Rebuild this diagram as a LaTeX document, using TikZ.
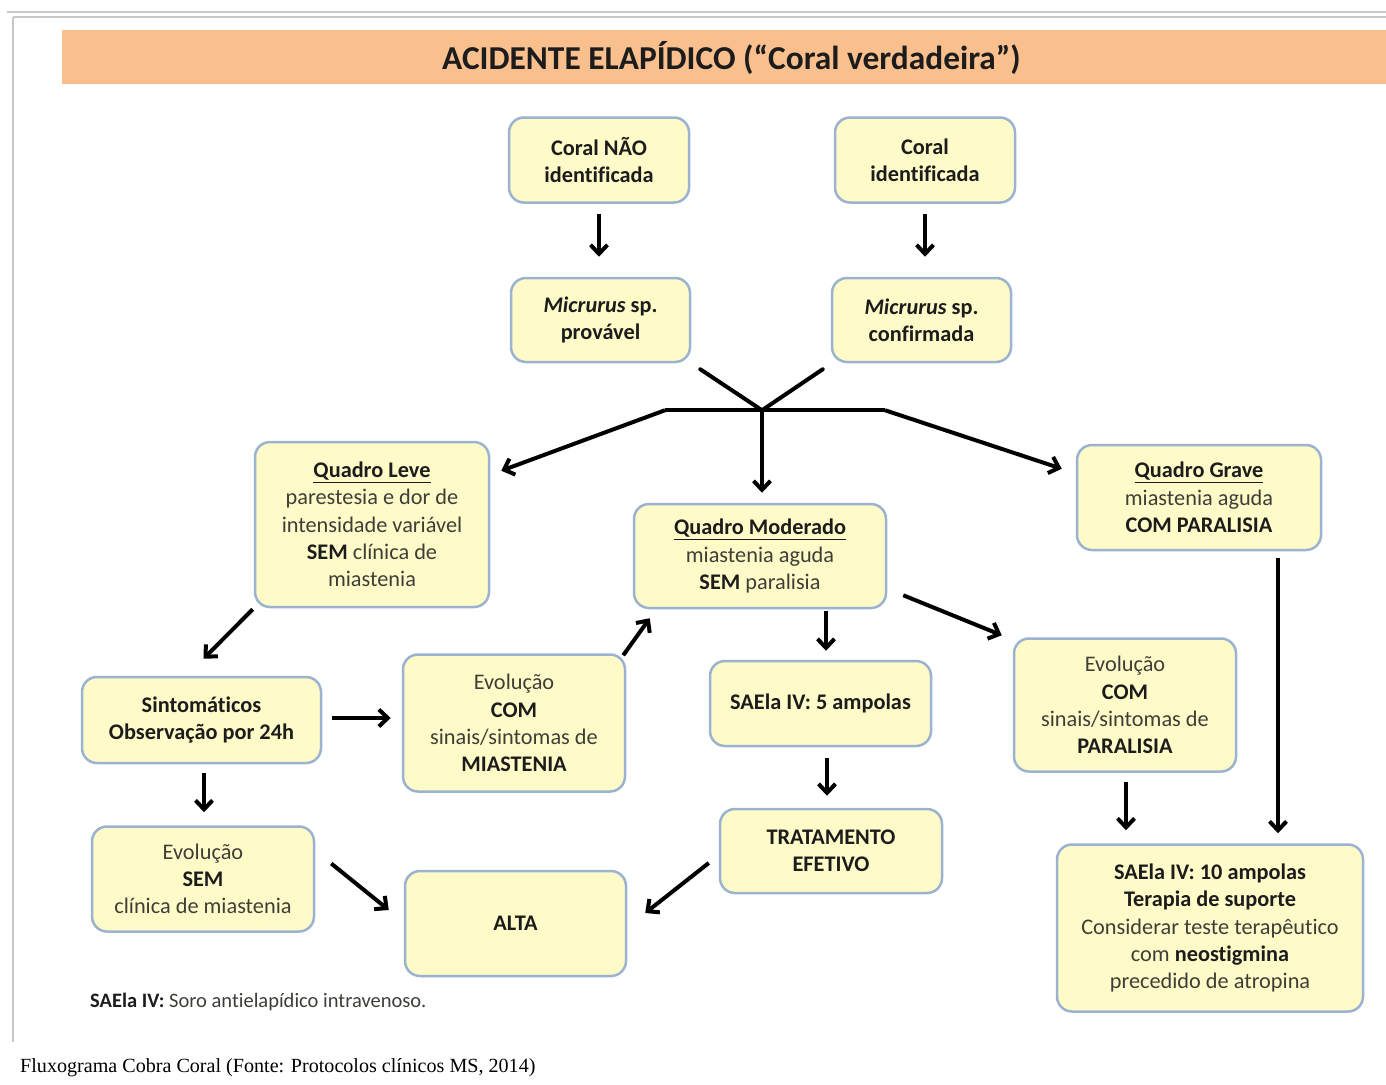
\documentclass[tikz,border=0pt]{standalone}
\usepackage{fontspec}
\setmainfont{Carlito}[Ligatures=NoCommon]
\newfontfamily\capfont{Liberation Serif}
\usetikzlibrary{arrows.meta,calc}
\definecolor{boxfill}{RGB}{255,251,200}
\definecolor{boxline}{RGB}{155,178,208}
\definecolor{band}{RGB}{249,192,142}
\definecolor{txt}{RGB}{62,62,56}
\definecolor{bdark}{RGB}{28,28,28}
\definecolor{frame}{RGB}{200,200,200}
\newcommand{\Bx}[1]{{\color{bdark}\bfseries #1}}
\tikzset{
  box/.style={draw=boxline, fill=boxfill, line width=2.5pt, rounded corners=15pt,
    align=center, inner sep=0pt, text=txt, font=\fontsize{22.3}{27.3}\selectfont},
  arr/.style={line width=4pt, -{Straight Barb[length=9pt,width=17pt,line width=4pt]}},
  plain/.style={line width=4pt},
}
\begin{document}
\begin{tikzpicture}[x=1pt,y=-1pt]
\useasboundingbox (0,0) rectangle (1386,1084);
\fill[white] (0,0) rectangle (1386,1084);
% frame
\draw[frame, line width=1.2pt] (7,12) -- (1386,12);
\draw[frame, line width=1.2pt] (13,17) -- (1386,17);
\draw[frame, line width=1.2pt] (13,17) -- (13,1042);
% title band
\fill[band] (62,30) rectangle (1386,84);
\node[font=\fontsize{33.4}{38}\selectfont\bfseries, text=bdark] (title) at (731.5,58) {ACIDENTE ELAPÍDICO (“Coral verdadeira”)};

% boxes
\node[box, minimum width=180pt, minimum height=85pt] (n1) at (599,160) {\Bx{Coral NÃO}\\\Bx{identificada}};
\node[box, minimum width=180pt, minimum height=85pt] (n2) at (925,160) {\Bx{Coral}\\\Bx{identificada}};
\node[box, minimum width=179pt, minimum height=84pt] (n3) at (600.5,320) {\Bx{\itshape Micrurus} \Bx{sp.}\\\Bx{provável}};
\node[box, minimum width=179pt, minimum height=84pt] (n4) at (921.5,320) {\Bx{\itshape Micrurus} \Bx{sp.}\\\Bx{confirmada}};
\node[box, minimum width=234pt, minimum height=165pt] (leve) at (372,524.5) {\Bx{\underline{Quadro Leve}}\\parestesia e dor de\\intensidade variável\\\Bx{SEM} clínica de\\miastenia};
\node[box, minimum width=252pt, minimum height=104pt] (mod) at (760,556) {\Bx{\underline{Quadro Moderado}}\\miastenia aguda\\\Bx{SEM} paralisia};
\node[box, minimum width=244pt, minimum height=105pt] (grave) at (1199,497.5) {\Bx{\underline{Quadro Grave}}\\miastenia aguda\\\Bx{COM PARALISIA}};
\node[box, minimum width=239pt, minimum height=86pt] (sint) at (201.5,720) {\Bx{Sintomáticos}\\\Bx{Observação por 24h}};
\node[box, minimum width=222pt, minimum height=137pt] (evm) at (514,723) {Evolução\\\Bx{COM}\\sinais/sintomas de\\\Bx{MIASTENIA}};
\node[box, minimum width=221pt, minimum height=85pt] (sae5) at (820.5,703.5) {\Bx{SAEla IV: 5 ampolas}};
\node[box, minimum width=222pt, minimum height=133pt] (evp) at (1125,705) {Evolução\\\Bx{COM}\\sinais/sintomas de\\\Bx{PARALISIA}};
\node[box, minimum width=222pt, minimum height=105pt] (evs) at (203,879) {Evolução\\\Bx{SEM}\\clínica de miastenia};
\node[box, minimum width=221pt, minimum height=105pt] (alta) at (515.5,923.5) {\Bx{ALTA}};
\node[box, minimum width=222pt, minimum height=84pt] (trat) at (831,851) {\Bx{TRATAMENTO}\\\Bx{EFETIVO}};
\node[box, minimum width=306pt, minimum height=167pt] (sae10) at (1210,928) {\Bx{SAEla IV: 10 ampolas}\\\Bx{Terapia de suporte}\\Considerar teste terapêutico\\com \Bx{neostigmina}\\precedido de atropina};

% footnote and caption
\node[anchor=west, inner sep=0pt, text=txt, font=\fontsize{20.5}{24}\selectfont] (foot) at (90,1002) {\Bx{SAEla IV:} Soro antielapídico intravenoso.};
\node[anchor=west, inner sep=0pt, text=black, font=\capfont\fontsize{20.1}{24}\selectfont] (cap) at (20,1068) {Fluxograma Cobra Coral (Fonte: Protocolos clínicos MS, 2014)};

% connectors
\draw[arr] ($(n1.south)+(0,10)$) -- ($(n1.south |- n3.north)+(0,-20)$);
\draw[arr] ($(n2.south)+(0,10)$) -- ($(n2.south |- n4.north)+(0,-20)$);
\coordinate (J) at ($(n3.south east)!0.5!(n4.south west)+(1,47)$);
\coordinate (JL) at ($(J)+(-97,0)$);
\coordinate (JR) at ($(J)+(123,0)$);
\draw[plain, line cap=round] ($(n3.south east)+(9,6)$) -- (J) -- ($(n4.south west)+(-8,6)$);
\draw[plain] (JL) -- (JR);
\draw[arr] (JL) -- ($(leve.north east)+(11,30)$);
\draw[arr] (JR) -- ($(grave.north west)+(-14,25)$);
\draw[arr] (J) -- ($(J |- mod.north)+(0,-10)$);
\draw[arr] ($(leve.south west)+(-1,1)$) -- ($(sint.north)+(2,-17)$);
\draw[arr] ($(sint.south)+(2.5,9)$) -- ($(sint.south |- evs.north)+(2.5,-13)$);
\draw[arr] ($(sint.east)+(10,-2)$) -- ($(sint.east -| evm.west)+(-11,-2)$);
\draw[arr] ($(evm.north east)+(-3,2)$) -- ($(mod.south west)+(17,9)$);
\draw[arr] ($(sae5.north)+(5.5,-49)$) -- ($(sae5.north)+(5.5,-9)$);
\draw[arr] ($(mod.south east)+(16,-14)$) -- ($(evp.north west)+(-11,-2)$);
\draw[arr] ($(sae5.south)+(6.5,11)$) -- ($(sae5.south |- trat.north)+(6.5,-12)$);
\draw[arr] ($(evp.south)+(1,9)$) -- ($(evp.south |- sae10.north)+(1,-13)$);
\draw[arr] ($(grave.south)+(79,7)$) -- ($(grave.south |- sae10.north)+(79,-10)$);
\draw[arr] ($(evs.east)+(16,-15.5)$) -- ($(alta.west)+(-15,-13.5)$);
\draw[arr] ($(trat.west)+(-10,12)$) -- ($(alta.east)+(18,-10.5)$);
\end{tikzpicture}
\end{document}
